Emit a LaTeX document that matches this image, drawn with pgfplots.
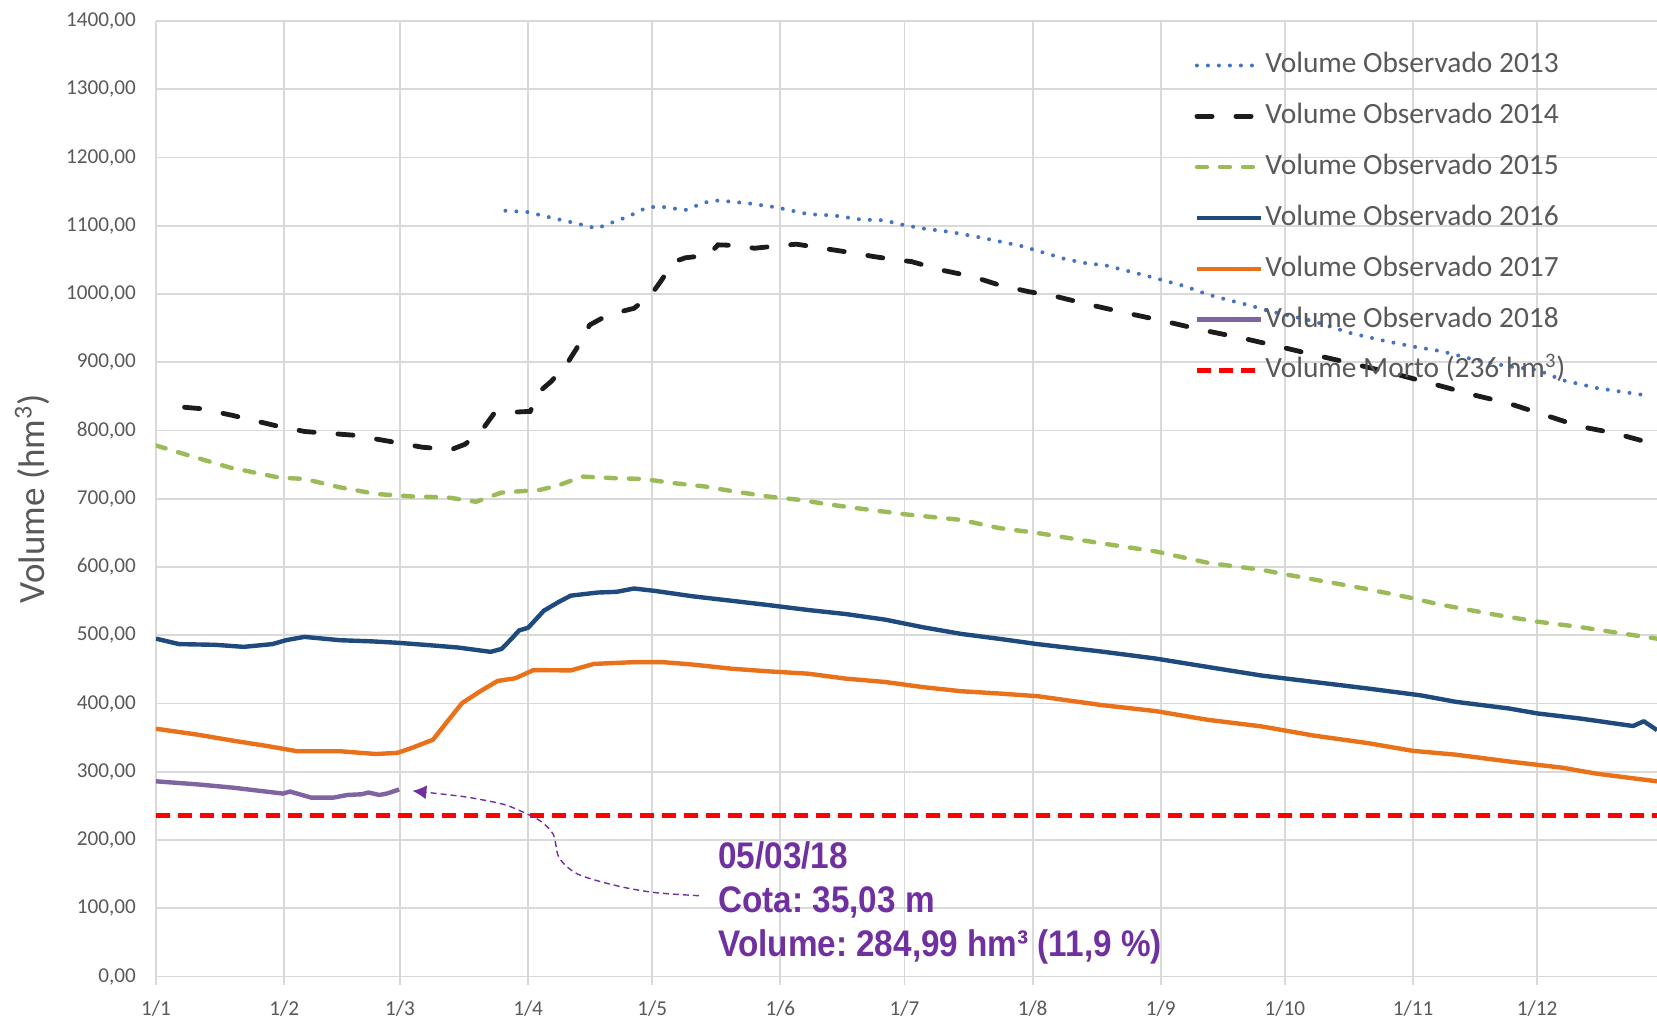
\documentclass[border=0pt]{standalone}
\usepackage{pgfplots}
\pgfplotsset{compat=1.18}
\usepackage{fontspec}
\setmainfont{Carlito}
\newfontfamily\annfont[FakeStretch=0.9]{Liberation Sans}
\usetikzlibrary{arrows.meta}
\definecolor{cA}{HTML}{4472C4}
\definecolor{cB}{HTML}{1C1C1C}
\definecolor{cC}{HTML}{9BBB59}
\definecolor{cD}{HTML}{1F4A7E}
\definecolor{cE}{HTML}{E8711A}
\definecolor{cF}{HTML}{8064A2}
\definecolor{cR}{HTML}{FF0000}
\definecolor{annp}{HTML}{7030A0}
\definecolor{gridg}{HTML}{D9D9D9}
\definecolor{txtg}{HTML}{595959}
\frenchspacing
\begin{document}
\begin{tikzpicture}
\begin{axis}[
  at={(0,0)}, anchor=south west,
  scale only axis, width=750.5pt, height=477.75pt,
  xmin=0, xmax=363, ymin=0, ymax=1400,
  axis x line*=bottom, axis y line*=left,
  axis line style={draw=gridg, line width=0.9pt},
  xtick={0,31,59,90,120,151,181,212,243,273,304,334},
  xticklabels={1/1,1/2,1/3,1/4,1/5,1/6,1/7,1/8,1/9,1/10,1/11,1/12},
  ytick={0,100,...,1400},
  grid=major, major grid style={draw=gridg, line width=0.9pt},
  tick align=outside, major tick length=4pt,
  xtick style={draw=gridg, line width=0.9pt},
  ytick style={draw=none},
  /pgf/number format/fixed, /pgf/number format/fixed zerofill,
  /pgf/number format/precision=2, /pgf/number format/use comma,
  /pgf/number format/1000 sep={}, /pgf/number format/assume math mode=true,
  ticklabel style={font=\fontsize{10.6}{12}\selectfont, text=txtg},
  yticklabel style={xshift=-2.5pt},
  xticklabel style={yshift=-4.5pt},
  ylabel={Volume (hm\textsuperscript{3})},
  ylabel style={font=\fontsize{18.5}{20}\selectfont, text=txtg, at={(axis description cs:-0.0826,0.5)}, anchor=center},
  legend style={at={(axis description cs:0.6916,1)}, anchor=north west, yshift=-14.3pt, draw=none, fill=none,
    font=\fontsize{14.7}{16}\selectfont, text=txtg, row sep=9.9pt, inner sep=0pt,
    nodes={inner sep=1pt, text height=10.5pt, text depth=3pt}},
  legend cell align=left,
  legend image code/.code={\draw[#1] (0pt,0pt) -- (32pt,0pt);},
]
\addplot[color=cA, line width=2pt, line cap=round, dash pattern=on 0pt off 5.5pt] coordinates {
(84.5,1122) (90,1120) (94.7,1113) (102,1103) (106.6,1096) (109.5,1103) (114,1113) (118.8,1127) (122,1128) (128,1123) (132.6,1134) (136,1137) (143,1133) (150,1127) (157.7,1117) (164,1115) (170.6,1109) (176,1108) (180.8,1101) (185.5,1096) (192,1091) (198.4,1084) (204,1077) (209.5,1070) (215,1060) (220,1051) (225,1045) (229.6,1042) (240,1026) (243,1021) (248.5,1012) (254.5,999) (258.8,992) (264.7,983) (269.8,974) (273,970) (280,960) (288.7,943) (297.3,931) (304,923) (311,916) (318.7,904) (327,894) (334,889) (340,874) (348.6,862) (359.8,852)};
\addlegendentry{Volume Observado 2013}
\addplot[color=cB, line width=2.4pt, line cap=round, dash pattern=on 7.6pt off 11.9pt] coordinates {
(6.9,834) (10.8,832) (18.6,822) (29,807) (36,798.5) (48,793) (57.5,783) (64.4,775.5) (71.4,772) (74.8,780) (79,802) (81.7,824.5) (87,827) (90.5,828) (92.9,858) (95.6,872) (99.4,898) (101.7,920) (104.9,954.7) (107.7,964) (112.3,974) (115.6,979) (119.7,998.6) (122,1018) (125.2,1047) (128,1053) (133.6,1057) (135.9,1072) (141,1071) (144.7,1067) (151.2,1071) (154.9,1073) (162.3,1066) (168.8,1060) (173.4,1055) (179,1050) (182.7,1047.5) (190,1035) (197.5,1025.5) (204,1013) (211,1003.5) (217.9,996) (226,984) (234.8,972) (244,960) (252.8,947.5) (263,935) (271.6,923) (280,911) (288.7,899) (299,884) (308.4,869) (318.7,852) (327,840) (335.7,823) (344.3,806) (352.8,796) (363,779)};
\addlegendentry{Volume Observado 2014}
\addplot[color=cC, line width=2.2pt, line cap=round, dash pattern=on 5pt off 6.5pt] coordinates {
(0,778) (8.2,763) (17.7,746) (29.8,731) (35.9,729) (44.5,716.7) (53.2,707) (61.9,703.4) (70.5,702) (77.4,695.6) (83.5,709) (90.4,712) (92.9,713) (97.5,720) (103,732.5) (111.4,730) (117.8,729) (125.3,722.8) (132.7,718) (139,711.5) (148.4,703) (155.8,698.3) (162.3,692) (169.7,686) (181.5,677) (194.7,669) (203.9,657) (213,650) (228.3,635) (241.6,623) (254.5,606) (267.3,596) (273.3,589) (284.4,577) (293,567.5) (303.3,555) (310,545.6) (323,531) (334,520) (344.4,512) (353,504) (363,495)};
\addlegendentry{Volume Observado 2015}
\addplot[color=cD, line width=2.2pt, line join=round] coordinates {
(0,495) (5.6,487) (14.3,486) (21.2,483) (28.1,487) (31.6,493) (35.9,497.6) (44.6,492.7) (52.3,491) (58.4,489) (66.2,485.4) (73.1,482) (80.9,475.7) (83.6,480) (86,495) (87.8,507) (90,511) (93.8,536) (97.3,548.5) (100.3,558) (106.8,562.6) (111.4,563.6) (115.6,568.5) (120.6,565) (129.9,557) (139.2,550.5) (148.4,544) (157.7,537) (166.9,531) (176.2,523) (185.5,511.7) (194.7,502) (204,494.7) (213.2,487) (228.8,476) (241.6,466) (254.5,453.4) (267.3,441) (280,431.6) (293,422) (305.8,412) (314.4,402.4) (327.2,392.7) (334,385.5) (344.4,378) (357.2,367) (359.8,374) (363,361)};
\addlegendentry{Volume Observado 2016}
\addplot[color=cE, line width=2.2pt, line join=round] coordinates {
(0,363) (10,354.4) (18.6,345.6) (27.2,337.4) (34.2,330) (44.6,330) (53.2,326) (58.4,327.7) (61.9,335) (67,347) (70.5,374) (74,400.5) (78.3,417.5) (82.6,433) (86.9,437) (91.3,449) (100.3,448.5) (105.9,458) (116,460.7) (122.5,460.7) (129.9,457) (139.2,451) (148.4,447) (157.7,443.7) (166.9,436.4) (176.2,431.6) (185.5,424) (194.7,418) (204,414.6) (213.2,410.7) (228.8,397.6) (241.6,389) (254.5,376) (267.3,366.5) (280,353) (293,342) (304,330.6) (314.4,325) (327.2,315) (340,306) (348.6,297) (363,286)};
\addlegendentry{Volume Observado 2017}
\addplot[color=cF, line width=2.2pt, line join=round] coordinates {
(0,286) (10,281.5) (18.6,276.7) (30.7,268) (32.4,271) (37.6,262) (42.8,262) (46.3,266) (49.7,267) (51.4,269.6) (54,266) (55.8,268) (58.8,274)};
\addlegendentry{Volume Observado 2018}
\addplot[color=cR, line width=2.4pt, dash pattern=on 7pt off 4pt] coordinates {(0,236) (363,236)};
\addlegendentry{Volume Morto (236 hm\textsuperscript{3})}
\addplot[forget plot, color=annp, line width=0.7pt, dash pattern=on 3pt off 2pt, smooth, -{Latex[length=7pt,width=7pt]}] coordinates {
(131.3,118.4) (120.6,123) (111.4,133) (102,150) (97.5,174) (96.1,208) (92.9,228) (88,243) (83.6,253) (75,263) (66,269.4) (62,272)};
\node[anchor=base west, text=annp, font=\annfont\bfseries\fontsize{18.5}{22}\selectfont, inner sep=0pt] at (axis cs:135.9,158) {05/03/18};
\node[anchor=base west, text=annp, font=\annfont\bfseries\fontsize{18.5}{22}\selectfont, inner sep=0pt] at (axis cs:135.9,93.5) {Cota: 35,03 m};
\node[anchor=base west, text=annp, font=\annfont\bfseries\fontsize{18.5}{22}\selectfont, inner sep=0pt] at (axis cs:135.9,29) {Volume: 284,99 hm³ (11,9 \%)};
\end{axis}
\pgfresetboundingbox
\path[use as bounding box] (-78pt,-20.75pt) rectangle (750.5pt,488.25pt);
\end{tikzpicture}
\end{document}
